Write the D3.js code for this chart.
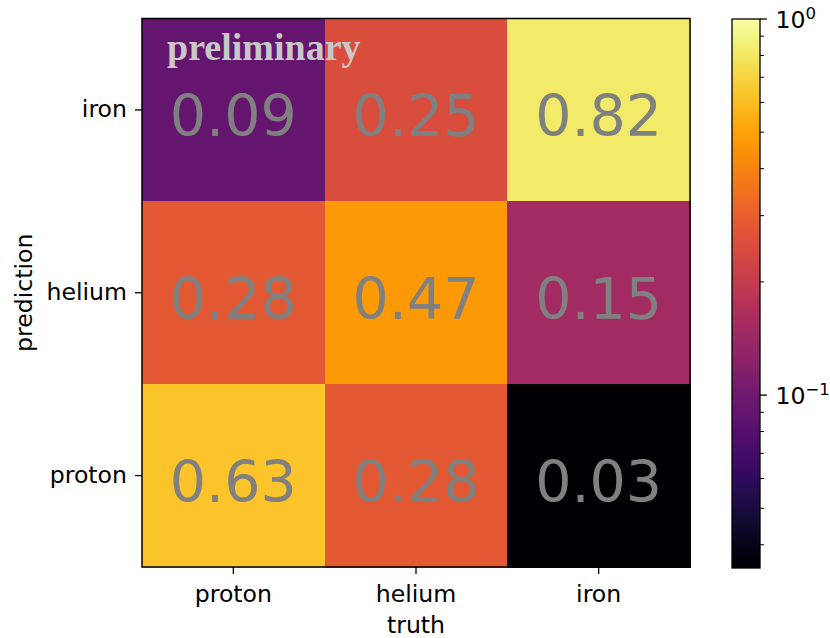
<!DOCTYPE html>
<html>
<head>
<meta charset="utf-8">
<script src="https://cdn.jsdelivr.net/npm/d3@7/dist/d3.min.js"></script>
<style>
  html, body { margin: 0; padding: 0; background: #fff; }
  svg { display: block; }
  text { font-family: "DejaVu Sans", sans-serif; }
</style>
</head>
<body>
<svg id="chart" width="830" height="638"></svg>
<script>
// Confusion matrix: rows = predicted class, columns = true class
const truthClasses = ["proton", "helium", "iron"];
const predictionClasses = ["iron", "helium", "proton"]; // top to bottom
const rowIron   = [0.09, 0.25, 0.82];
const rowHelium = [0.28, 0.47, 0.15];
const rowProton = [0.63, 0.28, 0.0347];
const colorbarMajorTicks = [0.1, 1];
const colorbarMinorTicks = [0.04, 0.05, 0.06, 0.07, 0.08, 0.09, 0.2, 0.3, 0.4, 0.5, 0.6, 0.7, 0.8, 0.9];
const watermark = "preliminary";

const rows = { iron: rowIron, helium: rowHelium, proton: rowProton };
const cells = [];
predictionClasses.forEach(p => {
  rows[p].forEach((v, i) => cells.push({ pred: p, truth: truthClasses[i], value: v }));
});

const vmin = d3.min(cells, d => d.value);
const vmax = 1;

const svg = d3.select("#chart");
const labelSize = "23.6px";

const plot = { left: 142, right: 690, top: 18.5, bottom: 567 };
const x = d3.scaleBand().domain(truthClasses).range([plot.left, plot.right]);
const y = d3.scaleBand().domain(predictionClasses).range([plot.top, plot.bottom]);

const logNorm = d3.scaleLog().domain([vmin, vmax]).range([0, 1]).clamp(true);
const color = v => d3.interpolateInferno(logNorm(v));

// Heatmap cells
svg.append("g").selectAll("rect").data(cells).join("rect")
  .attr("x", d => x(d.truth))
  .attr("y", d => y(d.pred))
  .attr("width", x.bandwidth() + 0.5)
  .attr("height", y.bandwidth() + 0.5)
  .attr("fill", d => color(d.value))
  .attr("shape-rendering", "crispEdges");

// Watermark
svg.append("text")
  .attr("x", 167)
  .attr("y", 60)
  .attr("fill", "#c8c8c8")
  .style("font-family", "'Liberation Serif', 'Times New Roman', serif")
  .style("font-weight", "bold")
  .style("font-size", "38px")
  .text(watermark);

// Cell value labels
svg.append("g").selectAll("text").data(cells).join("text")
  .attr("x", d => x(d.truth) + x.bandwidth() / 2)
  .attr("y", d => y(d.pred) + y.bandwidth() / 2 + 26.5)
  .attr("text-anchor", "middle")
  .attr("fill", "#808080")
  .style("font-size", "57px")
  .text(d => d.value.toFixed(2));

// Axes
const xAxis = svg.append("g")
  .attr("transform", `translate(0,${plot.bottom})`)
  .call(d3.axisBottom(x).tickSize(7).tickPadding(7));
const yAxis = svg.append("g")
  .attr("transform", `translate(${plot.left},0)`)
  .call(d3.axisLeft(y).tickSize(7).tickPadding(8));
[xAxis, yAxis].forEach(a => {
  a.select(".domain").remove();
  a.selectAll(".tick line").attr("stroke", "#000").attr("stroke-width", 1.3);
  a.selectAll(".tick text").attr("fill", "#000").style("font-size", labelSize);
});
xAxis.selectAll(".tick text").attr("dy", "0.9em");

// Frame
svg.append("rect")
  .attr("x", plot.left).attr("y", plot.top)
  .attr("width", plot.right - plot.left).attr("height", plot.bottom - plot.top)
  .attr("fill", "none").attr("stroke", "#000").attr("stroke-width", 1.5);

// Axis titles
svg.append("text")
  .attr("x", (plot.left + plot.right) / 2)
  .attr("y", 633)
  .attr("text-anchor", "middle")
  .style("font-size", labelSize)
  .text("truth");
svg.append("text")
  .attr("transform", `translate(32,${(plot.top + plot.bottom) / 2}) rotate(-90)`)
  .attr("text-anchor", "middle")
  .style("font-size", labelSize)
  .text("prediction");

// Colorbar
const cb = { left: 732, right: 760, top: 19, bottom: 568 };
const cbScale = d3.scaleLog().domain([vmin, vmax]).range([cb.bottom, cb.top]);

const defs = svg.append("defs");
const grad = defs.append("linearGradient")
  .attr("id", "cbgrad").attr("x1", 0).attr("y1", 1).attr("x2", 0).attr("y2", 0);
d3.range(0, 1.0001, 0.02).forEach(t => {
  grad.append("stop").attr("offset", t).attr("stop-color", d3.interpolateInferno(t));
});
svg.append("rect")
  .attr("x", cb.left).attr("y", cb.top)
  .attr("width", cb.right - cb.left).attr("height", cb.bottom - cb.top)
  .attr("fill", "url(#cbgrad)")
  .attr("stroke", "#000").attr("stroke-width", 1.3);

const cbAxis = svg.append("g").attr("transform", `translate(${cb.right},0)`);
cbAxis.selectAll("line.minor").data(colorbarMinorTicks.filter(v => v >= vmin && v <= vmax)).join("line")
  .attr("class", "minor")
  .attr("x1", 0).attr("x2", 4)
  .attr("y1", d => cbScale(d)).attr("y2", d => cbScale(d))
  .attr("stroke", "#000").attr("stroke-width", 1);
cbAxis.selectAll("line.major").data(colorbarMajorTicks).join("line")
  .attr("class", "major")
  .attr("x1", 0).attr("x2", 7)
  .attr("y1", d => cbScale(d)).attr("y2", d => cbScale(d))
  .attr("stroke", "#000").attr("stroke-width", 1.3);
const cbLabels = cbAxis.selectAll("text").data(colorbarMajorTicks).join("text")
  .attr("x", 15.5)
  .attr("y", d => cbScale(d) + 8.5)
  .style("font-size", labelSize);
cbLabels.append("tspan").text("10");
cbLabels.append("tspan")
  .attr("dy", -9)
  .style("font-size", "16.5px")
  .text(d => { const e = Math.round(Math.log10(d)); return e < 0 ? "\u2212" + (-e) : String(e); });
</script>
</body>
</html>
